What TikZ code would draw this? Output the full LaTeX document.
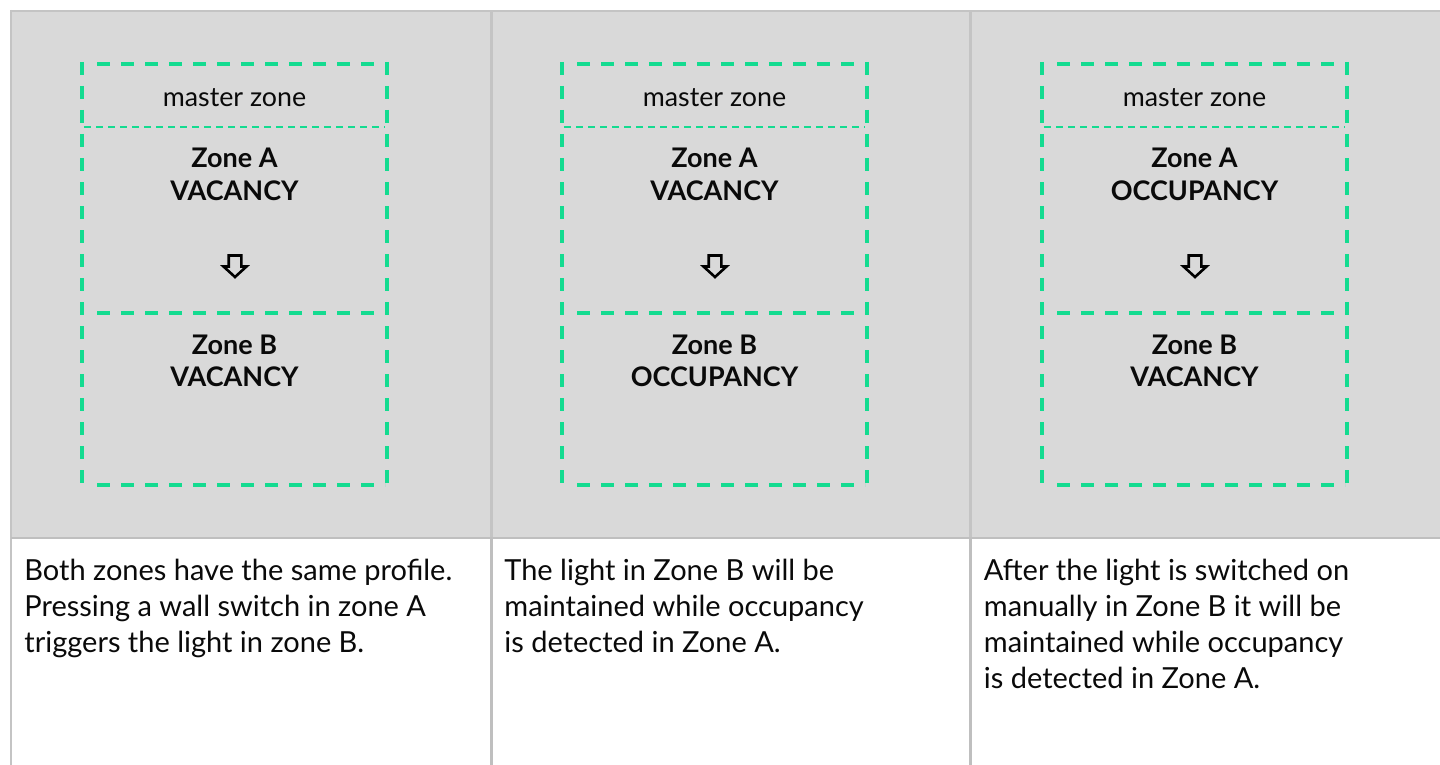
\documentclass[tikz,border=0pt]{standalone}
\usepackage{fontspec}
\setmainfont{Lato}
\definecolor{cellgray}{HTML}{D9D9D9}
\definecolor{rulegray}{HTML}{C4C4C4}
\definecolor{rulegrayw}{HTML}{BFBFBF}
\definecolor{zonegreen}{HTML}{14DB90}
\definecolor{txt}{HTML}{0A0A0A}
\tikzset{
  zoneline/.style={draw=zonegreen, line width=2pt, dash pattern=on 6.5pt off 5.5pt},
  zonevert/.style={zoneline, dash phase=0pt},
  zonehor/.style={zoneline, dash phase=0pt},
  zonedot/.style={draw=zonegreen, line width=1pt, dash pattern=on 3.3pt off 2.7pt},
  mzlabel/.style={inner sep=0pt, anchor=base, text=txt, font=\fontsize{13.4}{15}\selectfont},
  zlabel/.style={inner sep=0pt, anchor=base, text=txt, font=\fontsize{13.5}{15}\selectfont\bfseries},
  desc/.style={inner sep=0pt, anchor=base west, text=txt, font=\fontsize{14.5}{18}\selectfont},
  arrowshape/.style={draw=black, line width=1.3pt, miter limit=10},
}
\begin{document}
\begin{tikzpicture}[x=0.5pt, y=-0.5pt]
\useasboundingbox (0,0) rectangle (1440,765);
\fill[white] (0,0) rectangle (1440,765);
% gray header cells
\fill[cellgray] (12,12) rectangle (1440,537);
% table rules
\draw[rulegray, line width=1pt] (10,11) -- (1440,11);
\draw[rulegray, line width=1pt] (11,10) -- (11,765);
\draw[rulegrayw, line width=1.25pt] (11,538) -- (1440,538);
\draw[rulegray, line width=1.5pt] (491.5,12) -- (491.5,537);
\draw[rulegray, line width=1.5pt] (970.5,12) -- (970.5,537);
\draw[rulegrayw, line width=1.5pt] (491.5,537) -- (491.5,765);
\draw[rulegrayw, line width=1.5pt] (970.5,537) -- (970.5,765);

% ---------- column boxes ----------
\foreach \o/\k in {0/1,480/2,960/3}{
  \coordinate (tl\k) at (82+\o,62);
  \coordinate (bl\k) at (82+\o,487);
  \coordinate (tr\k) at (387+\o,62);
  \coordinate (br\k) at (387+\o,487);
  \draw[zonevert] (tl\k) -- (bl\k);
  \draw[zonevert] (tr\k) -- (br\k);
  \coordinate (ht\k) at (97+\o,64);
  \coordinate (hte\k) at (385+\o,64);
  \draw[zonehor] (ht\k) -- (hte\k);
  \coordinate (hb\k) at (97+\o,485);
  \coordinate (hbe\k) at (385+\o,485);
  \draw[zonehor] (hb\k) -- (hbe\k);
  \coordinate (hm\k) at (97+\o,313);
  \coordinate (hme\k) at (385+\o,313);
  \draw[zonehor] (hm\k) -- (hme\k);
  \coordinate (hd\k) at (84+\o,127);
  \coordinate (hde\k) at (385+\o,127);
  \draw[zonedot] (hd\k) -- (hde\k);
  \draw[arrowshape] (228.7+\o,255.5) -- (241.3+\o,255.5) -- (241.3+\o,266.5) -- (246.5+\o,266.5)
     -- (235+\o,277) -- (223.5+\o,266.5) -- (228.7+\o,266.5) -- cycle;
  \node[mzlabel] (mz\k) at (234.5+\o,107) {master zone};
}

% zone labels
\node[zlabel] (za1) at (234.5,167.3) {Zone A};
\node[zlabel] (zas1) at (234.5,200) {VACANCY};
\node[zlabel] (zb1) at (234.5,354) {Zone B};
\node[zlabel] (zbs1) at (234.5,386.7) {VACANCY};

\node[zlabel] (za2) at (714.5,167.3) {Zone A};
\node[zlabel] (zas2) at (714.5,200) {VACANCY};
\node[zlabel] (zb2) at (714.5,354) {Zone B};
\node[zlabel] (zbs2) at (714.5,386.7) {OCCUPANCY};

\node[zlabel] (za3) at (1194.5,167.3) {Zone A};
\node[zlabel] (zas3) at (1194.5,200) {OCCUPANCY};
\node[zlabel] (zb3) at (1194.5,354) {Zone B};
\node[zlabel] (zbs3) at (1194.5,386.7) {VACANCY};

% descriptions
\node[desc] (d11) at (24,580.7) {Both zones have the same profile.};
\node[desc] (d12) at (24,616.7) {Pressing a wall switch in zone A};
\node[desc] (d13) at (24,652.7) {triggers the light in zone B.};

\node[desc] (d21) at (504,580.7) {The light in Zone B will be};
\node[desc] (d22) at (504,616.7) {maintained while occupancy};
\node[desc] (d23) at (504,652.7) {is detected in Zone A.};

\node[desc] (d31) at (983.5,580.7) {After the light is switched on};
\node[desc] (d32) at (983.5,616.7) {manually in Zone B it will be};
\node[desc] (d33) at (983.5,652.7) {maintained while occupancy};
\node[desc] (d34) at (983.5,688.7) {is detected in Zone A.};
\end{tikzpicture}
\end{document}
